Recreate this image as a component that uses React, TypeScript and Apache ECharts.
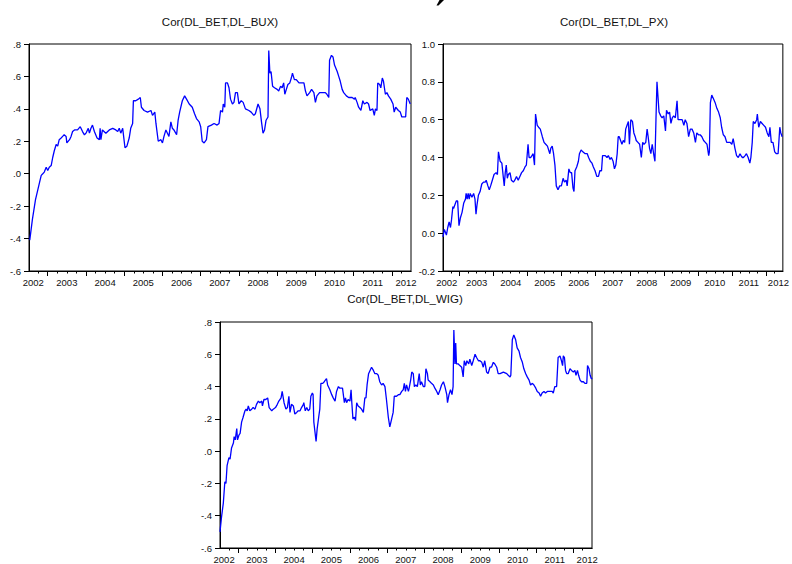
import React, { useEffect, useRef } from "react";
import * as echarts from "echarts";

const FONT = '"Liberation Sans", Arial, Helvetica, sans-serif';

// ---- DATA (fractional year, correlation) ----
const corBux: [number, number][] = [
  [2002.53,-0.41],[2002.60,-0.28],[2002.68,-0.16],[2002.74,-0.10],[2002.80,-0.04],[2002.83,-0.01],[2002.87,0.00],[2002.91,0.01],[2002.96,0.04],
  [2003.00,0.02],[2003.04,0.04],[2003.09,0.05],[2003.13,0.10],[2003.17,0.14],[2003.22,0.18],[2003.26,0.17],[2003.30,0.21],[2003.35,0.22],
  [2003.39,0.23],[2003.43,0.24],[2003.48,0.23],[2003.50,0.19],[2003.57,0.21],[2003.61,0.23],[2003.65,0.26],[2003.70,0.27],[2003.78,0.27],
  [2003.85,0.29],[2003.91,0.26],[2003.96,0.24],[2004.00,0.25],[2004.06,0.28],[2004.09,0.25],[2004.13,0.28],[2004.17,0.30],[2004.22,0.26],
  [2004.29,0.22],[2004.35,0.21],[2004.37,0.28],[2004.39,0.21],[2004.43,0.27],[2004.52,0.25],[2004.61,0.27],[2004.70,0.28],[2004.78,0.27],
  [2004.83,0.26],[2004.87,0.28],[2004.91,0.25],[2004.96,0.28],[2005.02,0.16],[2005.07,0.17],[2005.13,0.22],[2005.17,0.28],[2005.22,0.31],
  [2005.24,0.45],[2005.30,0.45],[2005.37,0.46],[2005.42,0.47],[2005.45,0.41],[2005.52,0.39],[2005.61,0.38],[2005.70,0.39],[2005.74,0.36],
  [2005.80,0.38],[2005.83,0.31],[2005.89,0.20],[2005.96,0.21],[2006.00,0.19],[2006.04,0.23],[2006.09,0.27],[2006.13,0.25],[2006.17,0.23],
  [2006.22,0.32],[2006.26,0.28],[2006.30,0.27],[2006.37,0.24],[2006.41,0.33],[2006.45,0.38],[2006.52,0.45],[2006.58,0.48],[2006.63,0.46],
  [2006.70,0.43],[2006.78,0.41],[2006.84,0.37],[2006.89,0.34],[2006.96,0.32],[2007.00,0.29],[2007.04,0.20],[2007.09,0.19],[2007.15,0.21],
  [2007.19,0.29],[2007.28,0.30],[2007.35,0.31],[2007.43,0.30],[2007.48,0.31],[2007.52,0.39],[2007.57,0.38],[2007.59,0.43],[2007.63,0.41],
  [2007.65,0.56],[2007.70,0.56],[2007.74,0.53],[2007.78,0.46],[2007.83,0.43],[2007.87,0.44],[2007.91,0.50],[2007.96,0.50],[2008.00,0.43],
  [2008.06,0.45],[2008.11,0.44],[2008.17,0.40],[2008.26,0.39],[2008.32,0.38],[2008.39,0.36],[2008.43,0.37],[2008.50,0.43],[2008.55,0.40],
  [2008.59,0.32],[2008.63,0.25],[2008.67,0.27],[2008.71,0.33],[2008.76,0.35],[2008.78,0.76],[2008.81,0.62],[2008.84,0.63],[2008.88,0.54],
  [2008.93,0.53],[2009.00,0.52],[2009.04,0.51],[2009.09,0.54],[2009.13,0.53],[2009.17,0.56],[2009.20,0.49],[2009.24,0.52],[2009.28,0.55],
  [2009.33,0.56],[2009.37,0.59],[2009.40,0.62],[2009.45,0.58],[2009.50,0.58],[2009.57,0.56],[2009.65,0.56],[2009.70,0.56],[2009.74,0.51],
  [2009.78,0.48],[2009.85,0.50],[2009.90,0.52],[2009.96,0.50],[2010.00,0.44],[2010.04,0.48],[2010.11,0.50],[2010.17,0.50],[2010.26,0.50],
  [2010.30,0.49],[2010.35,0.47],[2010.37,0.70],[2010.42,0.73],[2010.46,0.72],[2010.50,0.67],[2010.57,0.63],[2010.61,0.60],[2010.65,0.57],
  [2010.70,0.52],[2010.74,0.50],[2010.81,0.48],[2010.87,0.47],[2010.96,0.47],[2011.02,0.46],[2011.04,0.47],[2011.09,0.44],[2011.13,0.41],
  [2011.19,0.39],[2011.24,0.45],[2011.28,0.43],[2011.35,0.44],[2011.39,0.43],[2011.43,0.39],[2011.50,0.40],[2011.54,0.36],[2011.57,0.40],
  [2011.61,0.39],[2011.63,0.56],[2011.68,0.55],[2011.71,0.53],[2011.75,0.59],[2011.78,0.57],[2011.83,0.49],[2011.87,0.50],[2011.91,0.48],
  [2011.97,0.46],[2012.03,0.43],[2012.06,0.38],[2012.10,0.41],[2012.17,0.39],[2012.22,0.38],[2012.26,0.35],[2012.32,0.35],[2012.36,0.35],
  [2012.39,0.47],[2012.43,0.46],[2012.48,0.43],
];

const corPx: [number, number][] = [
  [2002.51,-0.02],[2002.55,0.02],[2002.61,-0.01],[2002.65,0.03],[2002.69,0.06],[2002.73,0.03],[2002.76,0.07],[2002.80,0.14],[2002.82,0.13],
  [2002.86,0.15],[2002.90,0.17],[2002.94,0.17],[2002.98,0.04],[2003.02,0.08],[2003.07,0.11],[2003.12,0.16],[2003.17,0.18],[2003.19,0.21],
  [2003.22,0.18],[2003.25,0.21],[2003.28,0.18],[2003.31,0.21],[2003.36,0.19],[2003.41,0.21],[2003.45,0.18],[2003.48,0.10],[2003.51,0.15],
  [2003.55,0.20],[2003.60,0.22],[2003.65,0.26],[2003.70,0.27],[2003.75,0.27],[2003.78,0.28],[2003.83,0.25],[2003.87,0.23],[2003.91,0.25],
  [2003.96,0.28],[2004.01,0.31],[2004.07,0.32],[2004.11,0.31],[2004.14,0.43],[2004.19,0.38],[2004.24,0.37],[2004.28,0.30],[2004.31,0.25],
  [2004.34,0.32],[2004.37,0.36],[2004.40,0.29],[2004.43,0.31],[2004.48,0.32],[2004.52,0.28],[2004.58,0.27],[2004.62,0.28],[2004.67,0.30],
  [2004.72,0.28],[2004.77,0.30],[2004.82,0.32],[2004.87,0.33],[2004.92,0.35],[2004.96,0.36],[2005.01,0.47],[2005.04,0.40],[2005.09,0.40],
  [2005.16,0.42],[2005.20,0.36],[2005.23,0.63],[2005.28,0.57],[2005.32,0.56],[2005.37,0.55],[2005.43,0.51],[2005.48,0.48],[2005.53,0.47],
  [2005.58,0.46],[2005.65,0.42],[2005.68,0.45],[2005.72,0.46],[2005.76,0.42],[2005.80,0.36],[2005.84,0.25],[2005.89,0.23],[2005.94,0.25],
  [2005.99,0.25],[2006.04,0.29],[2006.08,0.27],[2006.13,0.28],[2006.16,0.25],[2006.21,0.34],[2006.25,0.32],[2006.29,0.32],[2006.33,0.24],
  [2006.36,0.22],[2006.39,0.33],[2006.44,0.35],[2006.49,0.38],[2006.52,0.42],[2006.57,0.44],[2006.62,0.43],[2006.69,0.42],[2006.75,0.42],
  [2006.79,0.40],[2006.84,0.38],[2006.89,0.37],[2006.93,0.35],[2006.98,0.33],[2007.03,0.30],[2007.08,0.30],[2007.12,0.33],[2007.17,0.33],
  [2007.20,0.41],[2007.28,0.41],[2007.33,0.40],[2007.37,0.41],[2007.42,0.39],[2007.46,0.40],[2007.51,0.38],[2007.55,0.34],[2007.59,0.36],
  [2007.63,0.42],[2007.66,0.51],[2007.69,0.51],[2007.73,0.49],[2007.77,0.47],[2007.81,0.49],[2007.85,0.48],[2007.88,0.55],[2007.92,0.57],
  [2007.96,0.59],[2007.99,0.47],[2008.03,0.60],[2008.08,0.59],[2008.12,0.53],[2008.16,0.51],[2008.19,0.49],[2008.24,0.48],[2008.29,0.47],
  [2008.34,0.40],[2008.38,0.48],[2008.42,0.47],[2008.47,0.48],[2008.51,0.55],[2008.54,0.51],[2008.58,0.45],[2008.62,0.42],[2008.66,0.47],
  [2008.71,0.41],[2008.74,0.38],[2008.77,0.60],[2008.80,0.80],[2008.83,0.72],[2008.86,0.64],[2008.91,0.62],[2008.95,0.61],[2009.00,0.62],
  [2009.05,0.54],[2009.08,0.65],[2009.13,0.63],[2009.17,0.64],[2009.21,0.58],[2009.25,0.61],[2009.29,0.62],[2009.34,0.61],[2009.39,0.70],
  [2009.42,0.60],[2009.48,0.60],[2009.54,0.60],[2009.59,0.57],[2009.63,0.60],[2009.68,0.58],[2009.73,0.51],[2009.78,0.55],[2009.83,0.55],
  [2009.88,0.53],[2009.93,0.48],[2009.97,0.53],[2010.02,0.52],[2010.07,0.52],[2010.12,0.51],[2010.17,0.49],[2010.22,0.48],[2010.27,0.47],
  [2010.32,0.41],[2010.34,0.43],[2010.37,0.69],[2010.41,0.73],[2010.46,0.71],[2010.51,0.69],[2010.56,0.66],[2010.61,0.64],[2010.66,0.61],
  [2010.70,0.56],[2010.75,0.52],[2010.80,0.51],[2010.85,0.48],[2010.90,0.48],[2010.95,0.48],[2011.00,0.47],[2011.04,0.50],[2011.09,0.45],
  [2011.14,0.41],[2011.19,0.40],[2011.24,0.42],[2011.27,0.41],[2011.31,0.40],[2011.34,0.40],[2011.39,0.41],[2011.43,0.42],[2011.48,0.40],
  [2011.53,0.37],[2011.56,0.40],[2011.60,0.48],[2011.63,0.59],[2011.68,0.58],[2011.73,0.60],[2011.75,0.63],[2011.79,0.56],[2011.84,0.59],
  [2011.89,0.58],[2011.94,0.57],[2011.99,0.56],[2012.04,0.53],[2012.09,0.51],[2012.12,0.56],[2012.16,0.48],[2012.21,0.48],[2012.26,0.43],
  [2012.31,0.42],[2012.36,0.42],[2012.41,0.56],[2012.44,0.53],[2012.48,0.51],
];

const corWig: [number, number][] = [
  [2002.51,-0.50],[2002.55,-0.41],[2002.60,-0.32],[2002.64,-0.19],[2002.67,-0.20],[2002.70,-0.09],[2002.75,-0.04],[2002.78,-0.05],[2002.82,0.02],
  [2002.87,0.05],[2002.89,0.09],[2002.92,0.07],[2002.96,0.14],[2002.98,0.07],[2003.02,0.10],[2003.05,0.11],[2003.09,0.18],[2003.13,0.21],
  [2003.18,0.25],[2003.21,0.26],[2003.24,0.25],[2003.27,0.28],[2003.31,0.25],[2003.36,0.26],[2003.40,0.27],[2003.45,0.26],[2003.49,0.29],
  [2003.54,0.31],[2003.58,0.30],[2003.63,0.31],[2003.65,0.28],[2003.69,0.32],[2003.74,0.32],[2003.79,0.33],[2003.83,0.27],[2003.90,0.25],
  [2003.94,0.26],[2004.00,0.27],[2004.05,0.29],[2004.09,0.31],[2004.15,0.33],[2004.18,0.37],[2004.23,0.30],[2004.28,0.26],[2004.32,0.27],
  [2004.36,0.34],[2004.39,0.24],[2004.43,0.29],[2004.48,0.28],[2004.52,0.23],[2004.57,0.24],[2004.61,0.25],[2004.66,0.25],[2004.70,0.27],
  [2004.75,0.29],[2004.76,0.30],[2004.80,0.25],[2004.84,0.27],[2004.88,0.25],[2004.92,0.26],[2004.95,0.34],[2004.99,0.36],[2005.01,0.35],
  [2005.03,0.18],[2005.06,0.12],[2005.09,0.06],[2005.12,0.14],[2005.16,0.21],[2005.19,0.26],[2005.22,0.42],[2005.27,0.42],[2005.31,0.43],
  [2005.37,0.45],[2005.40,0.41],[2005.46,0.38],[2005.51,0.35],[2005.55,0.33],[2005.60,0.31],[2005.64,0.37],[2005.69,0.40],[2005.73,0.39],
  [2005.78,0.39],[2005.80,0.39],[2005.85,0.30],[2005.88,0.33],[2005.91,0.30],[2005.95,0.32],[2006.00,0.31],[2006.03,0.38],[2006.05,0.30],
  [2006.08,0.20],[2006.12,0.21],[2006.15,0.19],[2006.18,0.30],[2006.22,0.28],[2006.27,0.27],[2006.31,0.26],[2006.36,0.24],[2006.40,0.33],
  [2006.43,0.33],[2006.46,0.41],[2006.50,0.48],[2006.54,0.50],[2006.58,0.52],[2006.63,0.50],[2006.67,0.48],[2006.72,0.48],[2006.76,0.47],
  [2006.80,0.43],[2006.85,0.41],[2006.89,0.42],[2006.94,0.40],[2006.98,0.32],[2007.03,0.21],[2007.07,0.15],[2007.12,0.20],[2007.16,0.24],
  [2007.19,0.34],[2007.25,0.34],[2007.30,0.35],[2007.34,0.35],[2007.39,0.37],[2007.43,0.38],[2007.46,0.42],[2007.49,0.37],[2007.52,0.41],
  [2007.57,0.37],[2007.59,0.39],[2007.63,0.44],[2007.66,0.49],[2007.70,0.48],[2007.73,0.40],[2007.77,0.41],[2007.81,0.40],[2007.86,0.48],
  [2007.89,0.41],[2007.92,0.43],[2007.97,0.40],[2008.01,0.40],[2008.04,0.51],[2008.08,0.48],[2008.10,0.44],[2008.15,0.43],[2008.19,0.42],
  [2008.24,0.41],[2008.28,0.39],[2008.33,0.37],[2008.37,0.35],[2008.42,0.38],[2008.46,0.41],[2008.51,0.43],[2008.55,0.40],[2008.60,0.35],
  [2008.62,0.30],[2008.66,0.35],[2008.70,0.38],[2008.74,0.35],[2008.77,0.40],[2008.79,0.75],[2008.82,0.54],[2008.84,0.67],[2008.86,0.54],
  [2008.91,0.54],[2008.95,0.53],[2009.00,0.52],[2009.04,0.46],[2009.07,0.56],[2009.11,0.53],[2009.14,0.56],[2009.19,0.54],[2009.22,0.57],
  [2009.27,0.53],[2009.31,0.56],[2009.36,0.60],[2009.40,0.58],[2009.45,0.56],[2009.49,0.56],[2009.54,0.55],[2009.58,0.52],[2009.62,0.56],
  [2009.67,0.49],[2009.71,0.48],[2009.76,0.52],[2009.80,0.52],[2009.85,0.55],[2009.89,0.54],[2009.94,0.52],[2009.98,0.48],[2010.03,0.48],
  [2010.12,0.49],[2010.21,0.48],[2010.25,0.47],[2010.30,0.46],[2010.32,0.47],[2010.36,0.69],[2010.40,0.72],[2010.45,0.69],[2010.49,0.64],
  [2010.54,0.62],[2010.58,0.58],[2010.63,0.55],[2010.67,0.51],[2010.72,0.48],[2010.76,0.46],[2010.81,0.44],[2010.85,0.41],[2010.90,0.42],
  [2010.94,0.41],[2010.99,0.39],[2011.03,0.37],[2011.08,0.36],[2011.12,0.34],[2011.16,0.36],[2011.21,0.37],[2011.25,0.36],[2011.30,0.37],
  [2011.34,0.37],[2011.39,0.37],[2011.43,0.37],[2011.46,0.36],[2011.50,0.40],[2011.55,0.40],[2011.59,0.58],[2011.64,0.59],[2011.68,0.56],
  [2011.71,0.53],[2011.73,0.59],[2011.76,0.58],[2011.79,0.50],[2011.82,0.48],[2011.86,0.48],[2011.91,0.51],[2011.95,0.50],[2012.00,0.49],
  [2012.04,0.50],[2012.07,0.47],[2012.11,0.50],[2012.14,0.47],[2012.18,0.44],[2012.22,0.43],[2012.27,0.43],[2012.31,0.42],[2012.36,0.42],
  [2012.38,0.53],[2012.42,0.51],[2012.45,0.47],[2012.48,0.45],[2012.51,0.45],
];

const titles = ["Cor(DL_BET,DL_BUX)", "Cor(DL_BET,DL_PX)", "Cor(DL_BET,DL_WIG)"];
const yearLabels = [2002, 2003, 2004, 2005, 2006, 2007, 2008, 2009, 2010, 2011, 2012];
const X_MIN = 2002.51;
const X_MAX = 2012.5;

// ---- LAYOUT ----
const layouts = [
  { left: 29, top: 44, width: 382, height: 227, titleX: 220, titleY: 22, yMin: -0.6, yMax: 0.8, short: true },
  { left: 443, top: 44, width: 341, height: 227, titleX: 614, titleY: 22, yMin: -0.2, yMax: 1.0, short: false },
  { left: 220, top: 322, width: 372, height: 227, titleX: 405, titleY: 299, yMin: -0.6, yMax: 0.8, short: true },
];
const seriesData = [corBux, corPx, corWig];

const majorTicks = yearLabels.filter((y) => y > X_MIN && y < X_MAX);
const minorTicks: number[] = [];
yearLabels.forEach((y) => {
  [0.25, 0.5, 0.75].forEach((q) => {
    const v = y + q;
    if (v > X_MIN && v < X_MAX) minorTicks.push(v);
  });
});
const labelPositions = yearLabels.map((y) => Math.min(Math.max(y + 0.5, X_MIN + 0.11), X_MAX - 0.13));

function fmtY(v: number, short: boolean) {
  if (Math.abs(v) < 1e-9) v = 0;
  const s = v.toFixed(1);
  return short ? s.replace(/^(-?)0\./, "$1.") : s;
}

export default function App() {
  const ref = useRef<HTMLDivElement>(null);
  useEffect(() => {
    if (!ref.current) return;
    const chart = echarts.init(ref.current, undefined, { renderer: "svg" });
    const grid: any[] = [];
    const xAxis: any[] = [];
    const yAxis: any[] = [];
    const series: any[] = [];
    const graphic: any[] = [];
    const axisLine = { show: true, onZero: false, lineStyle: { color: "#000", width: 1 } };
    layouts.forEach((L, i) => {
      grid.push({
        left: L.left, top: L.top, width: L.width, height: L.height,
        show: true, borderColor: "#000", borderWidth: 1, backgroundColor: "#fff",
      });
      // major ticks + labels
      xAxis.push({
        type: "value", gridIndex: i, min: X_MIN, max: X_MAX, position: "bottom",
        axisLine,
        splitLine: { show: false },
        axisTick: { show: true, customValues: majorTicks, length: 5, lineStyle: { color: "#000", width: 1 } },
        axisLabel: {
          show: true, customValues: labelPositions, margin: 6,
          formatter: (v: number) => String(Math.floor(v + 1e-6)),
          color: "#111", fontSize: 9.5, fontFamily: FONT,
        },
      });
      // minor (quarter) ticks
      xAxis.push({
        type: "value", gridIndex: i, min: X_MIN, max: X_MAX, position: "bottom", offset: 0,
        axisLine,
        splitLine: { show: false },
        axisTick: { show: true, customValues: minorTicks, length: 2.5, lineStyle: { color: "#000", width: 1 } },
        axisLabel: { show: false },
      });
      yAxis.push({
        type: "value", gridIndex: i, min: L.yMin, max: L.yMax, interval: 0.2, position: "left",
        axisLine,
        splitLine: { show: false },
        axisTick: { show: true, length: 5, lineStyle: { color: "#000", width: 1 } },
        axisLabel: {
          margin: 8, color: "#111", fontSize: 9.5, fontFamily: FONT,
          formatter: (v: number) => fmtY(v, L.short),
        },
      });
      series.push({
        type: "line", xAxisIndex: i * 2, yAxisIndex: i,
        data: seriesData[i], showSymbol: false, symbol: "none",
        lineStyle: { color: "#0000ff", width: 1.3 },
        clip: true,
      });
      graphic.push({
        type: "text", x: L.titleX, y: L.titleY,
        style: {
          text: titles[i], fill: "#111", font: `11.5px ${FONT}`,
          textAlign: "center", textVerticalAlign: "middle",
        },
      });
    });
    graphic.push({
      type: "polygon",
      shape: { points: [[439.5, 0], [444, 0], [438.5, 5.5], [436.5, 5.5]] },
      style: { fill: "#000" },
    });
    chart.setOption({
      animation: false,
      backgroundColor: "#fff",
      grid, xAxis, yAxis, series, graphic,
    });
    return () => chart.dispose();
  }, []);
  return (
    <div
      ref={ref}
      style={{ position: "fixed", left: 0, top: 0, width: 792, height: 564, background: "#fff" }}
    />
  );
}
